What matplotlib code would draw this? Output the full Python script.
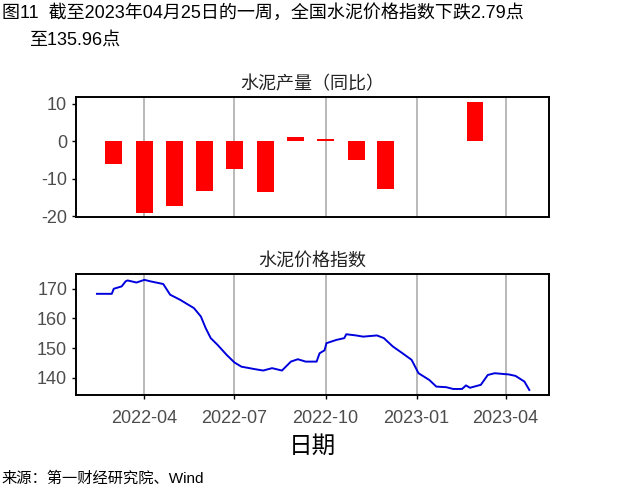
import numpy as np
import pandas as pd
import matplotlib
matplotlib.use("Agg")
import matplotlib.pyplot as plt
import matplotlib.dates as mdates

plt.rcParams["font.family"] = ["Liberation Sans", "Noto Sans CJK SC", "DejaVu Sans"]
plt.rcParams["axes.unicode_minus"] = False

# ------------------------------------------------------------
# Data
# ------------------------------------------------------------
bar_dates = ["2022-03-01", "2022-04-01", "2022-05-01", "2022-06-01", "2022-07-01",
             "2022-08-01", "2022-09-01", "2022-10-01", "2022-11-01", "2022-12-01",
             "2023-03-01"]
bar_values = [-6.0, -19.3, -17.3, -13.3, -7.5, -13.6, 1.2, 0.5, -5.1, -12.7, 10.4]

price_dates = ["2022-02-12", "2022-02-27", "2022-03-01", "2022-03-09", "2022-03-13",
               "2022-03-15", "2022-03-24", "2022-04-01", "2022-04-07", "2022-04-20",
               "2022-04-27", "2022-05-07", "2022-05-21", "2022-05-28", "2022-06-02",
               "2022-06-07", "2022-06-14", "2022-06-23", "2022-07-01", "2022-07-08",
               "2022-07-21", "2022-07-30", "2022-08-08", "2022-08-18", "2022-08-27",
               "2022-09-03", "2022-09-11", "2022-09-22", "2022-09-25", "2022-09-30",
               "2022-10-02", "2022-10-12", "2022-10-20", "2022-10-22", "2022-11-01",
               "2022-11-08", "2022-11-22", "2022-11-29", "2022-12-08", "2022-12-17",
               "2022-12-27", "2023-01-03", "2023-01-14", "2023-01-21", "2023-01-31",
               "2023-02-07", "2023-02-16", "2023-02-20", "2023-02-24", "2023-03-07",
               "2023-03-14", "2023-03-21", "2023-03-31", "2023-04-04", "2023-04-11",
               "2023-04-20", "2023-04-25"]
price_values = [168.3, 168.3, 170.0, 170.8, 172.5,
                172.8, 172.1, 173.0, 172.5, 171.6,
                168.0, 166.3, 163.5, 160.7, 156.7,
                153.4, 151.1, 147.8, 145.2, 143.8,
                143.0, 142.5, 143.3, 142.5, 145.5,
                146.3, 145.5, 145.5, 148.3, 149.3,
                151.7, 152.8, 153.4, 154.7, 154.3,
                153.9, 154.3, 153.4, 150.6, 148.5,
                146.1, 141.6, 139.3, 137.1, 136.9,
                136.3, 136.3, 137.5, 136.7, 137.7,
                141.0, 141.6, 141.3, 141.2, 140.7,
                138.8, 135.96]

quarter_ticks = ["2022-04-01", "2022-07-01", "2022-10-01", "2023-01-01", "2023-04-01"]
xlim = ("2022-01-22", "2023-05-15")

bd = pd.to_datetime(bar_dates)
pdates = pd.to_datetime(price_dates)
qt = pd.to_datetime(quarter_ticks)
xl = pd.to_datetime(list(xlim))

# ------------------------------------------------------------
# Figure
# ------------------------------------------------------------
fig = plt.figure(figsize=(6.4, 4.98), dpi=100)
ax1 = fig.add_axes([0.119, 0.564, 0.739, 0.241])
ax2 = fig.add_axes([0.119, 0.207, 0.739, 0.243])

grid_color = "#b3b3b3"
tick_color = "#4d4d4d"

for ax in (ax1, ax2):
    for q in qt:
        ax.axvline(q, color=grid_color, lw=1.3, zorder=0)
    ax.set_xlim(xl[0], xl[1])
    ax.set_xticks(qt)
    for s in ax.spines.values():
        s.set_linewidth(1.4)
        s.set_color("black")
    ax.tick_params(axis="both", colors="black", labelcolor=tick_color,
                   labelsize=13, length=3, width=1)

ax1.bar(bd, bar_values, width=17, color="#ff0000", zorder=2)
ax1.set_ylim(-20.3, 11.8)
ax1.set_yticks([-20, -10, 0, 10])
ax1.tick_params(axis="x", length=0, labelbottom=False)
ax1.set_title("水泥产量（同比）", fontsize=13, color="#222222", pad=6)

ax2.plot(pdates, price_values, color="#0000dd", lw=1.4, zorder=2)
ax2.set_ylim(134.3, 175.0)
ax2.set_yticks([140, 150, 160, 170])
ax2.xaxis.set_major_formatter(mdates.DateFormatter("%Y-%m"))
ax2.tick_params(axis="x", pad=8)
ax2.set_title("水泥价格指数", fontsize=13, color="#222222", pad=6)
ax2.set_xlabel("日期", fontsize=17, labelpad=6)

fig.text(0.003, 0.975, "图11  截至2023年04月25日的一周，全国水泥价格指数下跌2.79点",
         fontsize=13, va="center", ha="left")
fig.text(0.045, 0.920, "至135.96点", fontsize=13, va="center", ha="left")
fig.text(0.003, 0.040, "来源：第一财经研究院、Wind", fontsize=11, va="center", ha="left")

fig.savefig("out.png", dpi=100)
